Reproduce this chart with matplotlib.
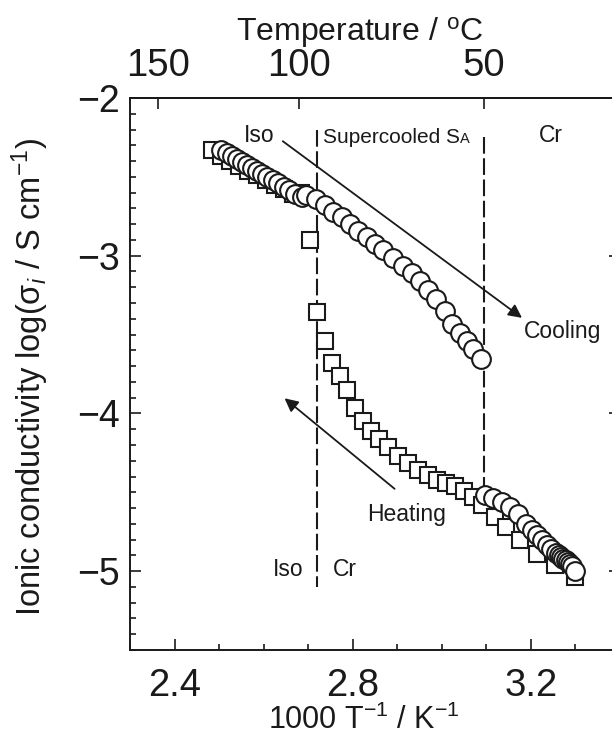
"""Ionic conductivity vs inverse temperature, heating/cooling runs."""
import numpy as np
import matplotlib
matplotlib.use("Agg")
import matplotlib.pyplot as plt
from matplotlib.ticker import MultipleLocator, NullLocator

plt.rcParams["font.family"] = ["Liberation Sans", "DejaVu Sans"]
plt.rcParams["mathtext.fontset"] = "custom"
plt.rcParams["mathtext.rm"] = "Liberation Sans"
plt.rcParams["mathtext.it"] = "Liberation Sans:italic"
plt.rcParams["mathtext.bf"] = "Liberation Sans:bold"

# heating run (squares): 1000/T [K^-1], log(sigma_i)
heat_x = [2.483, 2.505, 2.525, 2.545, 2.565, 2.585, 2.605, 2.625, 2.645, 2.665,
          2.684, 2.705, 2.720, 2.737, 2.754, 2.772, 2.787, 2.804, 2.823, 2.842,
          2.859, 2.879, 2.902, 2.924, 2.947, 2.970, 2.990, 3.010, 3.030, 3.050,
          3.070, 3.090, 3.119, 3.145, 3.175, 3.213, 3.254, 3.299]
heat_y = [-2.33, -2.37, -2.40, -2.43, -2.46, -2.49, -2.52, -2.55, -2.58, -2.61,
          -2.60, -2.90, -3.36, -3.54, -3.68, -3.765, -3.85, -3.965, -4.05, -4.11,
          -4.165, -4.215, -4.27, -4.315, -4.36, -4.39, -4.42, -4.44, -4.46, -4.49,
          -4.53, -4.58, -4.656, -4.72, -4.805, -4.89, -4.963, -5.035]

# cooling run (circles)
cool_x = [2.505, 2.517, 2.529, 2.540, 2.551, 2.562, 2.573, 2.585, 2.596, 2.608,
          2.620, 2.632, 2.645, 2.658, 2.671, 2.685, 2.696, 2.718, 2.737, 2.756,
          2.775, 2.793, 2.812, 2.831, 2.849, 2.868, 2.891, 2.913, 2.932, 2.951,
          2.970, 2.988, 3.007, 3.022, 3.040, 3.056, 3.071, 3.087,
          3.097, 3.115, 3.134, 3.153, 3.172, 3.190, 3.202, 3.213, 3.224, 3.235,
          3.246, 3.256, 3.262, 3.268, 3.273, 3.278, 3.283, 3.288, 3.293, 3.299]
cool_y = [-2.330, -2.350, -2.370, -2.388, -2.406, -2.424, -2.442, -2.462, -2.480, -2.500,
          -2.520, -2.540, -2.562, -2.584, -2.606, -2.630, -2.618, -2.639, -2.680, -2.724,
          -2.755, -2.798, -2.841, -2.883, -2.926, -2.962, -3.015, -3.068, -3.110, -3.163,
          -3.215, -3.276, -3.350, -3.435, -3.488, -3.541, -3.594, -3.658,
          -4.518, -4.539, -4.561, -4.592, -4.635, -4.698, -4.741, -4.772, -4.804, -4.836,
          -4.861, -4.883, -4.897, -4.910, -4.921, -4.932, -4.942, -4.953, -4.965, -4.996]

# phase boundaries (dashed lines)
trans_x = [2.719, 3.094]
trans_top = [-2.20, -2.25]
trans_bot = [-5.10, -4.48]

temp_ticks = [150, 100, 50]


def inv_to_c(x):
    return 1000.0 / np.asarray(x, dtype=float) - 273.15


def c_to_inv(t):
    return 1000.0 / (np.asarray(t, dtype=float) + 273.15)


fig = plt.figure(figsize=(6.12, 7.36), dpi=100)
ax = fig.add_axes([130 / 612, 1 - 650 / 736, 490 / 612, 552 / 736])

ax.plot(heat_x, heat_y, "s", ms=12, mfc="white", mec="#1a1a1a", mew=1.5, ls="none", zorder=3)
ax.plot(cool_x, cool_y, "o", ms=13.5, mfc="white", mec="#1a1a1a", mew=1.5, ls="none", zorder=4)

for xv, y0, y1 in zip(trans_x, trans_top, trans_bot):
    ax.plot([xv, xv], [y0, y1], color="#1a1a1a", lw=1.5, ls=(0, (8, 2.2)), zorder=2)

arrow = dict(arrowstyle="-|>", lw=1.3, color="#1a1a1a", mutation_scale=20,
             shrinkA=0, shrinkB=0)
ax.annotate("", xy=(3.18, -3.394), xytext=(2.643, -2.274), arrowprops=arrow)
ax.annotate("", xy=(2.647, -3.904), xytext=(2.894, -4.478), arrowprops=arrow)

txt = dict(color="#1a1a1a", fontsize=16.5, va="center")
ax.text(2.591, -2.236, "Iso", ha="center", **txt)
ax.text(3.245, -2.236, "Cr", ha="center", **txt)
ax.text(3.184, -3.48, "Cooling", ha="left", **txt)
ax.text(2.832, -4.64, "Heating", ha="left", **txt)
ax.text(2.654, -4.99, "Iso", ha="center", **txt)
ax.text(2.782, -4.99, "Cr", ha="center", **txt)
sc = ax.text(2.733, -2.285, "Supercooled S", ha="left", va="baseline",
             fontsize=15, color="#1a1a1a")
ax.annotate("A", xy=(1, -2.285), xycoords=(sc, "data"), ha="left", va="baseline",
            fontsize=10.5, color="#1a1a1a")

ax.set_xlim(2.3, 3.4)
ax.set_ylim(-5.5, -2)
ax.xaxis.set_minor_locator(MultipleLocator(0.1))
ax.yaxis.set_major_locator(MultipleLocator(1))
ax.yaxis.set_minor_locator(MultipleLocator(0.1))
ax.set_xticks([2.4, 2.8, 3.2])
ax.set_xticklabels(["2.4", "2.8", "3.2"])
ax.tick_params(which="both", direction="in", top=False, right=True, width=1.2,
               colors="#1a1a1a")
ax.tick_params(which="major", length=8)
ax.tick_params(which="minor", length=4.5)
ax.tick_params(axis="y", which="minor", right=False)
ax.tick_params(axis="x", labelsize=27.5, pad=13)
ax.tick_params(axis="y", labelsize=27, pad=7)
for s in ax.spines.values():
    s.set_linewidth(1.4)
    s.set_color("#1a1a1a")

secax = ax.secondary_xaxis("top", functions=(inv_to_c, c_to_inv))
secax.set_xticks(temp_ticks)
secax.xaxis.set_minor_locator(NullLocator())
secax.tick_params(direction="in", length=8, width=1.2, labelsize=27.5, pad=10,
                  colors="#1a1a1a")
secax.spines["top"].set_linewidth(1.4)

fig.text(360 / 612, 1 - 33 / 736, "Temperature / $\\mathregular{^o}$C", ha="center",
         va="center", fontsize=23, color="#1a1a1a")
fig.text(364 / 612, 1 - 720 / 736, "1000 T$^{-1}$ / K$^{-1}$", ha="center",
         va="center", fontsize=22, color="#1a1a1a")
fig.text(30 / 612, 1 - 377 / 736, "Ionic conductivity log(σ$_{i}$ / S cm$^{-1}$)",
         ha="center", va="center", rotation=90, fontsize=23.5, color="#1a1a1a")

fig.savefig("out.png", dpi=100)
